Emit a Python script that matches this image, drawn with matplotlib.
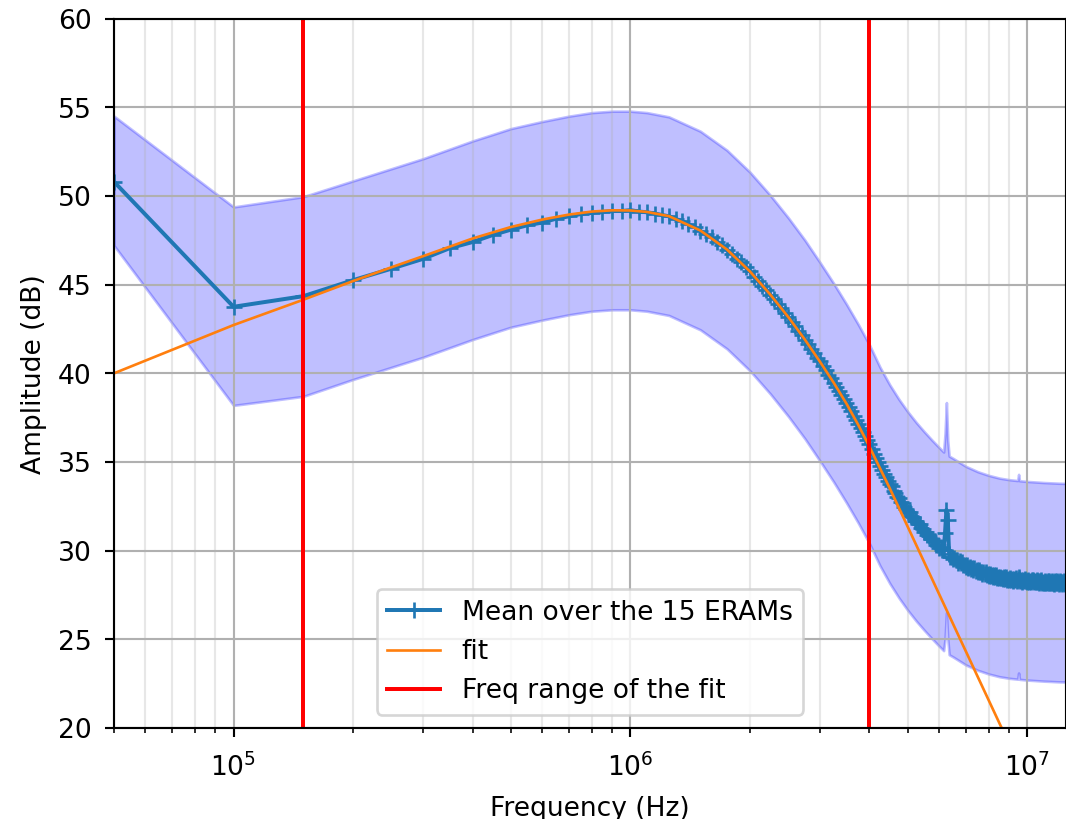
import matplotlib
matplotlib.use('Agg')

import matplotlib.pyplot as plt
import numpy as np

# measurement grid: 50 kHz steps up to 12.5 MHz
freq = np.arange(1, 251) * 50e3

# mean amplitude over the 15 cards (dB), one value per frequency
mean_db = [
    50.80, 43.75, 44.35, 45.25, 45.90, 46.45, 47.05, 47.40, 47.80, 48.10,
    48.35, 48.50, 48.72, 48.85, 48.98, 49.05, 49.10, 49.15, 49.15, 49.20,
    49.12, 49.08, 49.01, 48.93, 48.85, 48.70, 48.58, 48.40, 48.25, 48.03,
    47.84, 47.66, 47.41, 47.22, 46.95, 46.75, 46.47, 46.26, 45.97, 45.75,
    45.45, 45.23, 44.93, 44.71, 44.41, 44.19, 43.89, 43.67, 43.38, 43.17,
    42.88, 42.67, 42.38, 42.17, 41.88, 41.67, 41.38, 41.17, 40.88, 40.67,
    40.39, 40.19, 39.91, 39.72, 39.45, 39.25, 38.99, 38.79, 38.54, 38.33,
    38.08, 37.86, 37.60, 37.39, 37.14, 36.92, 36.67, 36.46, 36.21, 36.00,
    35.73, 35.47, 35.22, 34.98, 34.75, 34.53, 34.33, 34.13, 33.94, 33.75,
    33.63, 33.36, 33.26, 33.01, 32.97, 32.75, 32.71, 32.44, 32.36, 32.16,
    32.15, 31.93, 31.87, 31.66, 31.67, 31.49, 31.49, 31.25, 31.21, 31.04,
    31.06, 30.87, 30.83, 30.65, 30.68, 30.52, 30.53, 30.32, 30.29, 30.14,
    30.19, 30.02, 30.01, 31.00, 32.30, 31.75, 29.81, 29.63, 29.65, 29.54,
    29.61, 29.46, 29.47, 29.33, 29.40, 29.29, 29.35, 29.18, 29.20, 29.09,
    29.18, 29.04, 29.07, 28.94, 29.03, 28.93, 29.01, 28.85, 28.89, 28.79,
    28.89, 28.77, 28.80, 28.69, 28.79, 28.70, 28.78, 28.63, 28.67, 28.58,
    28.68, 28.57, 28.61, 28.51, 28.61, 28.53, 28.61, 28.47, 28.51, 28.43,
    28.54, 28.43, 28.48, 28.38, 28.49, 28.41, 28.50, 28.37, 28.42, 28.34,
    28.45, 28.35, 28.40, 28.30, 28.42, 28.34, 28.44, 28.30, 28.36, 28.50,
    28.40, 28.29, 28.35, 28.25, 28.37, 28.29, 28.39, 28.26, 28.31, 28.24,
    28.36, 28.25, 28.31, 28.22, 28.33, 28.26, 28.36, 28.22, 28.28, 28.21,
    28.32, 28.22, 28.28, 28.18, 28.30, 28.23, 28.33, 28.19, 28.25, 28.18,
    28.30, 28.19, 28.25, 28.16, 28.28, 28.20, 28.30, 28.17, 28.23, 28.16,
    28.27, 28.17, 28.23, 28.14, 28.26, 28.18, 28.28, 28.15, 28.21, 28.14,
    28.26, 28.16, 28.21, 28.12, 28.24, 28.17, 28.27, 28.14, 28.20, 28.13,
]

# fitted transfer function
fit_freq = [5e4, 1e5, 1.5e5, 2e5, 2.5e5, 3e5, 4e5, 5e5, 6e5, 7e5, 8e5, 9e5,
            1e6, 1.1e6, 1.25e6, 1.5e6, 1.75e6, 2e6, 2.25e6, 2.5e6, 2.75e6,
            3e6, 3.25e6, 3.5e6, 3.75e6, 4e6, 4.5e6, 5e6, 5.5e6, 6e6, 7e6,
            8e6, 9e6, 1e7, 1.25e7]
fit_db = [40.00, 42.72, 44.15, 45.20, 45.98, 46.60, 47.60, 48.25, 48.67, 48.95,
          49.12, 49.19, 49.18, 49.10, 48.86, 48.05, 46.98, 45.74, 44.44, 43.16,
          41.90, 40.66, 39.47, 38.29, 37.08, 35.86, 33.51, 31.32, 29.33, 27.52,
          24.31, 21.53, 19.08, 16.88, 12.23]

# spread between the cards
band_freq = [5e4, 1e5, 1.5e5, 2e5, 3e5, 4e5, 5e5, 6e5, 7e5, 8e5, 9e5, 1e6,
             1.1e6, 1.25e6, 1.5e6, 1.75e6, 2e6, 2.25e6, 2.5e6, 2.75e6, 3e6,
             3.25e6, 3.5e6, 3.75e6, 4e6, 4.25e6, 4.5e6, 4.75e6, 5e6, 5.25e6,
             5.5e6, 5.75e6, 6e6, 6.15e6, 6.2e6, 6.25e6, 6.3e6, 6.35e6, 6.5e6,
             7e6, 7.5e6, 8e6, 8.5e6, 9e6, 9.45e6, 9.5e6, 9.55e6, 1e7, 1.1e7,
             1.2e7, 1.25e7]
band_hi = [54.50, 49.38, 49.96, 50.85, 52.10, 53.10, 53.80, 54.20, 54.50, 54.70,
           54.78, 54.78, 54.70, 54.46, 53.65, 52.58, 51.34, 50.04, 48.76, 47.51,
           46.26, 45.07, 43.90, 42.75, 41.60, 40.35, 39.35, 38.52, 37.82, 37.22,
           36.70, 36.23, 35.80, 35.56, 36.60, 38.35, 36.20, 35.33, 35.20, 34.75,
           34.45, 34.24, 34.09, 34.00, 33.95, 34.30, 33.94, 33.90, 33.84, 33.80,
           33.79]
band_lo = [47.20, 38.19, 38.70, 39.65, 40.90, 41.90, 42.60, 43.00, 43.30, 43.50,
           43.58, 43.58, 43.50, 43.26, 42.45, 41.38, 40.14, 38.84, 37.56, 36.31,
           35.06, 33.87, 32.70, 31.55, 30.40, 29.15, 28.15, 27.32, 26.62, 26.02,
           25.50, 25.03, 24.60, 24.36, 25.00, 26.50, 25.00, 24.13, 24.00, 23.55,
           23.25, 23.04, 22.89, 22.80, 22.75, 23.10, 22.74, 22.70, 22.64, 22.60,
           22.59]

fit_range = [1.5e5, 4e6]

fig = plt.figure(figsize=(1066.4 / 191, 819.4 / 191), dpi=191)
ax = fig.add_axes([114 / 1066, 1 - 728 / 819, 951.5 / 1066, 709 / 819])

ax.fill_between(band_freq, band_lo, band_hi, color='blue', alpha=0.25)
ax.plot(freq, mean_db, '+-', color='tab:blue', label='Mean over the 15 ERAMs')
ax.plot(fit_freq, fit_db, color='tab:orange', lw=1, label='fit')
ax.axvline(fit_range[0], color='red', label='Freq range of the fit')
ax.axvline(fit_range[1], color='red')

ax.set_xscale('log')
ax.set_xlim(5e4, 1.25e7)
ax.set_ylim(20, 60)
ax.grid(which='major')
ax.grid(which='minor', alpha=0.3)
ax.tick_params(axis='x', which='both', pad=6.1)
ax.tick_params(axis='y', pad=5)
ax.set_xlabel('Frequency (Hz)', labelpad=5.2)
ax.set_ylabel('Amplitude (dB)')
ax.legend(loc='lower center')

fig.savefig('out.png', dpi=191)
